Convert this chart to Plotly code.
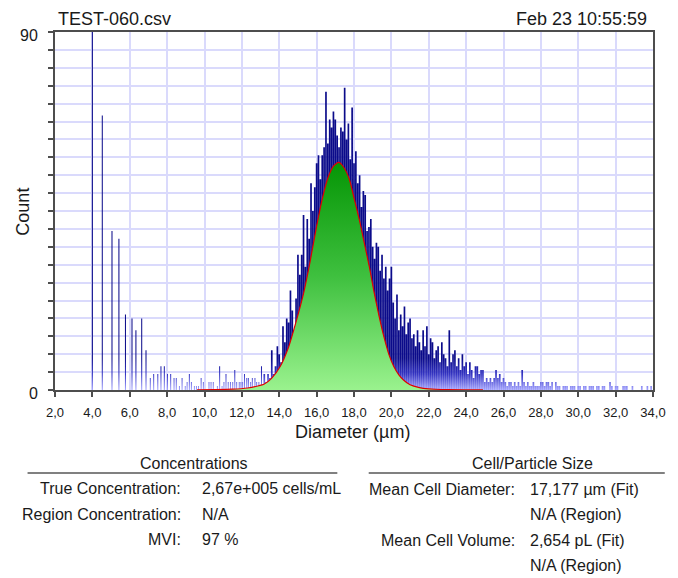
import plotly.graph_objects as go

# ---- Histogram data -------------------------------------------------------
# Small-particle region: discrete diameters (µm) and their counts
SPARSE_DIAM = [4.00, 4.53, 5.05, 5.42, 5.77, 6.12, 6.33, 6.64, 6.87, 7.10,
               7.28, 7.50, 7.67, 7.85, 8.02, 8.19, 8.37, 8.49, 8.66, 8.80,
               8.97, 9.07, 9.19, 9.30, 9.46, 9.57, 9.68, 9.82, 9.94, 10.24,
               10.35, 10.47, 10.69, 10.81, 10.94, 11.04, 11.15, 11.27, 11.39, 11.51,
               11.62, 11.72, 11.86, 11.95, 12.04, 12.14, 12.26, 12.35, 12.47, 12.56,
               12.70, 12.79, 12.91, 13.05]
SPARSE_COUNT = [98, 69, 40, 38, 19, 18, 15, 18, 10, 3,
                4, 4, 6, 6, 4, 4, 3, 3, 1, 3,
                1, 2, 4, 2, 1, 1, 1, 3, 2, 2,
                2, 2, 1, 6, 1, 2, 4, 2, 2, 2,
                5, 2, 2, 2, 2, 4, 3, 3, 2, 3,
                3, 2, 2, 6]

# Main population: 0.1 µm bins starting at 13.2 µm
MAIN_START = 13.2
MAIN_STEP = 0.1
MAIN_COUNT = [
    4, 2, 4, 3, 10, 4, 6, 11, 9, 7,            # 13.2 - 14.1
    16, 12, 18, 17, 25, 20, 15, 23, 34, 29,    # 14.2 - 15.1
    34, 44, 31, 43, 38, 52, 45, 51, 57, 59,    # 15.2 - 16.1
    53, 59, 61, 75, 62, 68, 66, 70, 68, 64,    # 16.2 - 17.1
    61, 66, 65, 76, 63, 67, 58, 71, 57, 60,    # 17.2 - 18.1
    52, 54, 46, 50, 49, 40, 41, 43, 36, 33,    # 18.2 - 19.1
    37, 36, 30, 34, 28, 31, 25, 28, 31, 22,    # 19.2 - 20.1
    18, 24, 15, 19, 16, 21, 14, 17, 18, 13,    # 20.2 - 21.1
    14, 11, 15, 12, 10, 15, 11, 16, 9, 13,     # 21.2 - 22.1
    12, 8, 10, 11, 7, 12, 9, 8, 6, 15,         # 22.2 - 23.1
    7, 9, 10, 6, 8, 5, 9, 6, 7, 4,             # 23.2 - 24.1
    7, 5, 3, 6, 6, 4, 5, 5, 2, 3,              # 24.2 - 25.1
    2, 3, 2, 3, 5, 3, 4, 2, 3, 2,              # 25.2 - 26.1
    1, 2, 2, 1, 2, 1, 2, 1, 5, 2,              # 26.2 - 27.1
    1, 2, 1, 1, 2, 1, 1, 1, 2, 2,              # 27.2 - 28.1
    1, 2, 2, 1, 2, 0, 2, 1, 1, 0,              # 28.2 - 29.1
    1, 1, 1, 0, 1, 1, 1, 0, 1, 1,              # 29.2 - 30.1
    0, 1, 1, 0, 1, 1, 1, 0, 1, 1,              # 30.2 - 31.1
    0, 1, 1, 0, 0, 2, 1, 0, 1, 1,              # 31.2 - 32.1
    0, 0, 1, 1, 1, 0, 0, 1, 0, 0,              # 32.2 - 33.1
    0, 0, 1, 0, 0, 1, 0, 1, 0,                 # 33.2 - 34.0
]

# Fitted size distribution curve
FIT_DIAM = [9.6, 10.5, 11.5, 12.3, 12.85, 13.2, 13.6, 14.05, 14.5, 14.95,
            15.3, 15.65, 16.0, 16.3, 16.6, 16.9, 17.18, 17.45, 17.75, 18.0,
            18.3, 18.55, 18.82, 19.08, 19.35, 19.6, 19.87, 20.13, 20.4, 20.65,
            21.0, 21.5, 22.0, 23.0, 24.9]
FIT_COUNT = [0.05, 0.1, 0.2, 0.5, 1.0, 1.5, 3.0, 5.9, 10.8, 18.0,
             24.3, 32.3, 41.2, 48.0, 53.3, 56.3, 57.2, 56.0, 53.0, 48.3,
             42.5, 37.0, 31.0, 24.5, 18.4, 13.4, 8.9, 5.9, 3.8, 2.5,
             1.3, 0.6, 0.3, 0.1, 0.05]

X_TICKS = [2, 4, 6, 8, 10, 12, 14, 16, 18, 20, 22, 24, 26, 28, 30, 32, 34]
X_TICK_TEXT = ["2,0", "4,0", "6,0", "8,0", "10,0", "12,0", "14,0", "16,0", "18,0",
               "20,0", "22,0", "24,0", "26,0", "28,0", "30,0", "32,0", "34,0"]
Y_MAX = 90
Y_MINOR_STEP = 4.5

FILE_NAME = "TEST-060.csv"
TIME_STAMP = "Feb 23 10:55:59"
CONC_LABELS = ["True Concentration:", "Region Concentration:", "MVI:"]
CONC_VALUES = ["2,67e+005 cells/mL", "N/A", "97 %"]
SIZE_LABELS = ["Mean Cell Diameter:", "", "Mean Cell Volume:", ""]
SIZE_VALUES = ["17,177 µm (Fit)", "N/A (Region)", "2,654 pL (Fit)", "N/A (Region)"]

# ---- Geometry helpers -----------------------------------------------------
W, H = 678, 578
L, R, T, B = 55, 665, 32, 390          # plot area in pixels


def px(x, y):
    """Pixel position on the page -> paper coordinates."""
    return (x - L) / (R - L), (B - y) / (B - T)


def bar_outlines(centers, counts, width):
    xs, ys = [], []
    for c, n in zip(centers, counts):
        if n <= 0:
            continue
        a, b = c - width / 2, c + width / 2
        xs += [a, a, b, b, a, None]
        ys += [0, n, n, 0, 0, None]
    return xs, ys


main_centers = [round(MAIN_START + i * MAIN_STEP, 2) for i in range(len(MAIN_COUNT))]

BAR_GRADIENT = dict(type="vertical", start=0, stop=8,
                    colorscale=[[0, "#a6a6ff"], [0.5, "#3434c2"], [1, "#0b0b8a"]])
FIT_GRADIENT = dict(type="vertical", start=0, stop=57,
                    colorscale=[[0, "#9af28e"], [0.5, "#3fc03f"], [1, "#069606"]])

fig = go.Figure()

sx, sy = bar_outlines(SPARSE_DIAM, SPARSE_COUNT, 0.055)
fig.add_trace(go.Scatter(x=sx, y=sy, mode="lines", line=dict(width=0),
                         fill="toself", fillgradient=BAR_GRADIENT, hoverinfo="skip"))

mx, my = bar_outlines(main_centers, MAIN_COUNT, 0.09)
fig.add_trace(go.Scatter(x=mx, y=my, mode="lines", line=dict(width=0),
                         fill="toself", fillgradient=BAR_GRADIENT, hoverinfo="skip"))

fig.add_trace(go.Scatter(x=FIT_DIAM, y=FIT_COUNT, mode="lines",
                         line=dict(color="#e00000", width=1.2, shape="spline", smoothing=0.6),
                         fill="tozeroy", fillgradient=FIT_GRADIENT, hoverinfo="skip"))

AXIS_COLOR = "#4d4d4d"
GRID_COLOR = "#dadafc"
FONT = "Liberation Sans, Arial, sans-serif"
TEXT_COLOR = "#1a1a1a"

fig.update_xaxes(range=[2, 34], tickmode="array", tickvals=X_TICKS, ticktext=X_TICK_TEXT,
                 ticks="outside", ticklen=5, tickwidth=1.5, tickcolor=AXIS_COLOR,
                 showline=True, linecolor=AXIS_COLOR, linewidth=2, mirror=True,
                 showgrid=True, gridcolor=GRID_COLOR, gridwidth=1.5, zeroline=False,
                 tickfont=dict(size=13, color=TEXT_COLOR), ticklabelstandoff=4)
fig.update_yaxes(range=[0, Y_MAX], tickmode="array", tickvals=[0, Y_MAX],
                 ticktext=["0", str(Y_MAX)],
                 ticks="outside", ticklen=5, tickwidth=1.5, tickcolor=AXIS_COLOR,
                 minor=dict(dtick=Y_MINOR_STEP, tick0=0, ticks="outside", ticklen=5,
                            tickwidth=1.5, tickcolor=AXIS_COLOR, showgrid=True,
                            gridcolor=GRID_COLOR, gridwidth=1.5),
                 showline=True, linecolor=AXIS_COLOR, linewidth=2, mirror=True,
                 showgrid=True, gridcolor=GRID_COLOR, gridwidth=1.5, zeroline=False,
                 tickfont=dict(size=16, color=TEXT_COLOR), ticklabelstandoff=7,
                 ticklabelshift=3)

annotations = []


def add_text(text, x, y, size, xanchor="center", angle=0):
    ax, ay = px(x, y)
    annotations.append(dict(text=text, x=ax, y=ay, xref="paper", yref="paper",
                            xanchor=xanchor, yanchor="middle", showarrow=False,
                            textangle=angle, font=dict(size=size, color=TEXT_COLOR, family=FONT)))


add_text(FILE_NAME, 56, 18.5, 18, xanchor="left")
add_text(TIME_STAMP, 661, 18.5, 18, xanchor="right")
add_text("Diameter (µm)", 358, 432, 18)
add_text("Count", 22, 212, 18, angle=-90)

add_text("Concentrations", 197, 463, 16)
for i, (lab, val) in enumerate(zip(CONC_LABELS, CONC_VALUES)):
    yy = 488.5 + i * 25.5
    add_text(lab, 186, yy, 16, xanchor="right")
    add_text(val, 203, yy, 16, xanchor="left")

add_text("Cell/Particle Size", 542, 463, 16)
for i, (lab, val) in enumerate(zip(SIZE_LABELS, SIZE_VALUES)):
    yy = 489 + i * 25.5
    if lab:
        add_text(lab, 526, yy, 16, xanchor="right")
    add_text(val, 538, yy, 16, xanchor="left")

shapes = []
for x0, x1 in [(27, 343), (375, 677)]:
    p0, py0 = px(x0, 473)
    p1, _ = px(x1, 473)
    shapes.append(dict(type="line", xref="paper", yref="paper", x0=p0, x1=p1,
                       y0=py0, y1=py0, line=dict(color="#808080", width=2)))

fig.update_layout(width=W, height=H, margin=dict(l=L, r=W - R, t=T, b=H - B),
                  paper_bgcolor="white", plot_bgcolor="white", showlegend=False,
                  font=dict(family=FONT, color=TEXT_COLOR),
                  annotations=annotations, shapes=shapes)

fig.write_html("out.html")
